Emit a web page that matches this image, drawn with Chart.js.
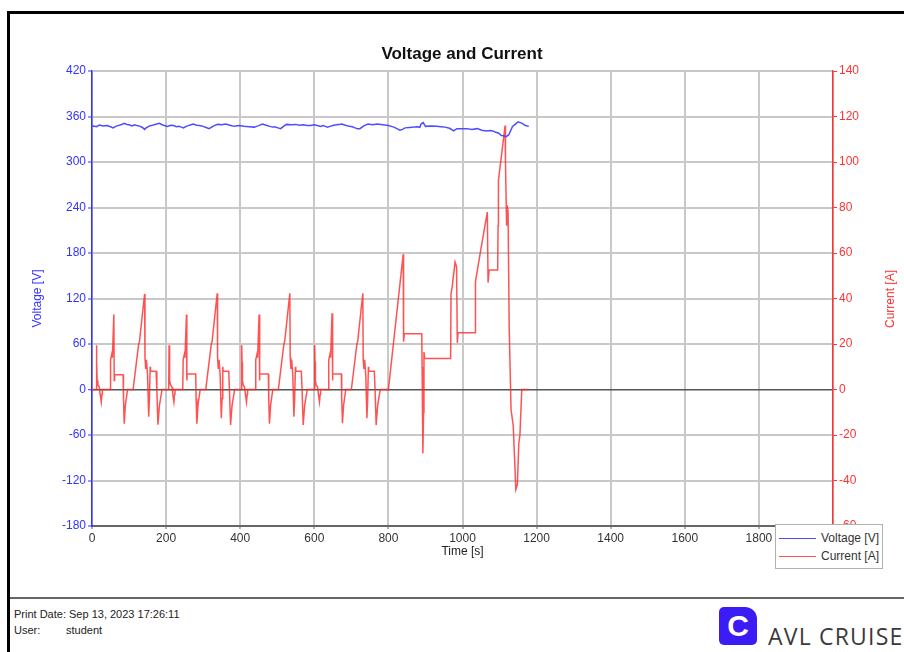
<!DOCTYPE html>
<html>
<head>
<meta charset="utf-8">
<script src="https://cdn.jsdelivr.net/npm/chart.js@4.4.0/dist/chart.umd.min.js"></script>
<style>
html,body{margin:0;padding:0;background:#fff;width:904px;height:652px;overflow:hidden;font-family:"Liberation Sans",Arial,sans-serif;}
#frameTop{position:absolute;left:7px;top:11px;width:897px;height:3px;background:#000;}
#frameLeft{position:absolute;left:7px;top:11px;width:3px;height:641px;background:#000;}
#sep{position:absolute;left:10px;top:597px;width:894px;height:2px;background:#666;}
#wrap{position:absolute;left:0;top:0;width:904px;height:597px;}
#rightTitle{position:absolute;left:890px;top:299px;transform:translate(-50%,-50%) rotate(-90deg);color:#ff3333;font-size:12px;white-space:nowrap;}
#legend{position:absolute;left:775px;top:524px;width:106px;height:43px;border:1px solid #b0b0b0;background:#fff;font-size:12px;color:#333;}
.lg{position:absolute;left:3px;width:37px;height:0;}
.lt{position:absolute;left:45px;}
#foot1{position:absolute;left:14px;top:608px;font-size:11px;color:#222;}
#foot2{position:absolute;left:14px;top:624px;font-size:11px;color:#222;}
#foot2b{position:absolute;left:66px;top:624px;font-size:11px;color:#222;}
#logo{position:absolute;left:719px;top:607px;width:38px;height:38px;background:#3b1cf5;border-radius:5px 12px 5px 5px;color:#fff;font:bold 30px "Liberation Sans",Arial,sans-serif;text-align:center;line-height:38px;}
#brand{position:absolute;left:768px;top:620px;font:400 23px "Open Sans",sans-serif;letter-spacing:1.2px;color:#3a3a3a;white-space:nowrap;}
</style>
</head>
<body>
<div id="frameTop"></div>
<div id="frameLeft"></div>
<div id="wrap"><canvas id="c"></canvas></div>
<div id="rightTitle">Current [A]</div>
<div id="legend">
  <div class="lg" style="top:13px;border-top:1.5px solid #4d4dff;"></div><div class="lt" style="top:6px;">Voltage [V]</div>
  <div class="lg" style="top:31px;border-top:1.5px solid #ff5050;"></div><div class="lt" style="top:24px;">Current [A]</div>
</div>
<div id="sep"></div>
<div id="foot1">Print Date: Sep 13, 2023 17:26:11</div>
<div id="foot2">User:</div><div id="foot2b">student</div>
<div id="logo">C</div>
<div id="brand">AVL CRUISE</div>
<script>
// ---- Data ----
const chartTitle = "Voltage and Current";
const xTitle = "Time [s]";
const voltageTitle = "Voltage [V]";
const currentTitle = "Current [A]";

const timeV = [0,4,12,20,30,40,50,57,64,70,80,87,94,100,108,115,122,130,136,142,146,150,155,160,170,182,188,195,204,212,220,228,235,241,247,254,260,267,274,282,290,300,308,316,323,330,339,350,361,372,384,397,410,424,438,444,450,460,470,480,488,495,502,509,517,525,537,550,560,570,580,590,600,608,617,624,630,636,642,650,660,667,674,684,695,703,710,717,723,729,735,745,757,770,785,800,808,815,823,831,838,845,857,870,878,885,888,894,900,915,930,942,953,965,976,985,1000,1012,1025,1040,1052,1064,1075,1082,1088,1098,1105,1111,1118,1125,1135,1143,1150,1161,1170,1179];
const voltage = [347,347.4,346.5,348.7,347.5,348,346.5,345,347,348,349.5,351,349.5,349,347.5,349,348,347,345.5,343,345,346,347.5,348,349.5,351,349.5,348,347,348.5,348,346.5,347,346,345,347,348,349,350,348.5,348,347,345.5,344,346,348,349.6,349,350,348.5,347,348,347,346.5,346,347,348,350,348.5,347,346,346,345,344,347,349.6,349,349.6,348.5,349,348,348,349,348,347,348,347,346,347,348,349,349.5,350,348.5,347,346.5,345,344,344,346,348,350,349,350,349,348,347,346,344,342,343,345,345.5,346,346.5,345.7,350,352,347,347.5,347,346.5,346,344.5,341,344,344,344,343,344,342,341,341.5,341,339.5,338,335,334.5,333.5,336,347,350,353,351,348,347,347];

const timeI = [
  0,11,12,13,14,16,20,22,25,27,28,49,50,54,55,59,60,61,84,85,87,90,96,111,126,128,142,143,145,147,150,153,155,157,158,173,175,178,182,189,
  207,208,209,210,212,216,218,221,223,224,245,246,250,251,255,256,257,280,281,283,286,292,307,322,324,338,339,341,343,346,349,351,353,354,369,371,374,378,385,
  403,404,405,406,408,412,414,417,419,420,441,442,446,447,451,452,453,476,477,479,482,488,503,518,520,534,535,537,539,542,545,547,549,550,565,567,570,574,581,
  600,601,602,603,605,609,611,614,616,617,638,639,643,644,648,649,650,673,674,676,679,685,700,715,717,731,732,734,736,739,742,744,746,747,762,764,767,771,778,
  800,840,841,843,890,891,893,895,896,898,968,969,972,980,984,986,988,1034,1035,1050,1067,1069,1072,1095,1096,1097,1115,1116,1119,1121,1123,1126,1131,1137,1144,1148,1152,1155,1160,1180
];
const current = [
  0,0,19.5,12,4,2,1,-2,-5.5,-2,0,0,13,16,14,33,4,6.5,6.5,-4,-15,-7,0,0,20,21,42,14,9,13,6,-12,-4,10,8,8,0,-15.5,-7,0,
  0,19.5,12,4,2,1,-2,-5.5,-2,0,0,13,16,14,33,4,6.8,6.8,-4,-15,-7,0,0,20,21,42.3,14,9,13,6,-12.6,-4,10,8,8,0,-15.6,-7,0,
  0,19.5,12,4,2,1,-2,-5.5,-2,0,0,13,16,14,33,4,6.8,6.8,-4,-15,-7,0,0,20,21,42.3,14,9,13,6,-12,-4,10,8,8,0,-15.6,-7,0,
  0,19.5,12,4,2,1,-2,-5.5,-2,0,0,13,16,14,33.5,4,6.8,6.8,-4,-14.8,-7,0,0,20,21,42.3,13,9,13,6,-12.6,-4,10,8,8,0,-15.6,-7,0,
  0,59.5,21,24.5,24.5,10,-28,-10,16.5,13.6,13.6,42,45,56,54,20.5,25,25,47.4,62,78,47,52.5,52.5,72,92,116,100,72,81,78,27.6,-8.8,-16,-44,-42,-23.5,-20,0,0
];

const xTicks = [0,200,400,600,800,1000,1200,1400,1600,1800,2000];
const voltageTicks = [-180,-120,-60,0,60,120,180,240,300,360,420];
const currentTicks = [-60,-40,-20,0,20,40,60,80,100,120,140];

const vData = timeV.map((t,i)=>({x:t,y:voltage[i]}));
const iData = timeI.map((t,i)=>({x:t,y:current[i]}));

const tickFont = {family:"'Liberation Sans', Arial, sans-serif", size:12};
const plain = v => String(v);

new Chart(document.getElementById('c'), {
  type:'line',
  data:{datasets:[
    {label:voltageTitle, data:vData, yAxisID:'yV', borderColor:'#4d4dff', borderWidth:1.5, pointRadius:0, tension:0, fill:false},
    {label:currentTitle, data:iData, yAxisID:'yI', borderColor:'rgba(255,40,40,0.8)', borderWidth:1.5, pointRadius:0, tension:0, fill:false}
  ]},
  options:{
    responsive:true, maintainAspectRatio:false, animation:false,
    layout:{padding:{left:20,right:0,top:44,bottom:27}},
    plugins:{
      legend:{display:false},
      tooltip:{enabled:false},
      title:{display:true,text:chartTitle,color:'#111',font:{family:"'Liberation Sans', Arial, sans-serif",size:17,weight:'bold'},padding:{top:0,bottom:6.6}}
    },
    scales:{
      x:{type:'linear',min:0,max:2000,
        afterBuildTicks:s=>{s.ticks=xTicks.map(v=>({value:v}));},
        afterFit:s=>{s.height=44;},
        ticks:{color:'#333',font:tickFont,padding:2,maxRotation:0,callback:plain},
        grid:{color:'#c8c8c8',lineWidth:2,tickLength:3,tickColor:'#666',tickWidth:1},
        border:{color:'#666',width:2},
        title:{display:true,text:xTitle,color:'#222',font:tickFont,padding:{top:0,bottom:11}}
      },
      yV:{type:'linear',position:'left',min:-180,max:420,
        afterBuildTicks:s=>{s.ticks=voltageTicks.map(v=>({value:v}));},
        afterFit:s=>{s.width=72;},
        ticks:{color:'#3333ff',font:tickFont,padding:2,callback:plain},
        grid:{color:c=>c.tick&&c.tick.value===0?'#555':'#c8c8c8',lineWidth:c=>c.tick&&c.tick.value===0?1.5:2,tickLength:4,tickColor:'#3333ff',tickWidth:1},
        border:{color:'#3333ff',width:1.5},
        title:{display:true,text:voltageTitle,color:'#3333ff',font:tickFont,padding:{top:10,bottom:0}}
      },
      yI:{type:'linear',position:'right',min:-60,max:140,
        afterBuildTicks:s=>{s.ticks=currentTicks.map(v=>({value:v}));},
        afterFit:s=>{s.width=71;},
        ticks:{color:'#ff3333',font:tickFont,padding:2,callback:plain},
        grid:{drawOnChartArea:false,tickLength:4,tickColor:'#ff3333',tickWidth:1},
        border:{color:'#ff3333',width:1.5},
        title:{display:false}
      }
    }
  }
});
</script>
</body>
</html>
